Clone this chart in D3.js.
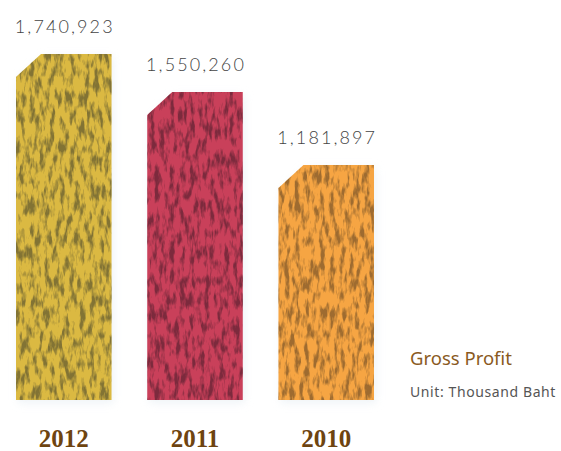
<!DOCTYPE html>
<html>
<head>
<meta charset="utf-8">
<script src="https://cdn.jsdelivr.net/npm/d3@7"></script>
<style>
  body { margin: 0; background: #fff; }
  svg { display: block; }
</style>
</head>
<body>
<script>
// chart data
var years = ["2012", "2011", "2010"];
var profits = [1740923, 1550260, 1181897];
var barColors = ["#dbb942", "#c9405a", "#f6a543"];
var spotColors = ["#5f5830", "#5e2232", "#7a5428"];

var width = 561, height = 451,
	baseY = 400, topY = 54,
	bevelX = 25, bevelY = 23;

var svg = d3.select("body").append("svg")
	.attr("width", width)
	.attr("height", height);

var defs = svg.append("defs");

// mottled texture, one filter per bar colour
spotColors.forEach(function(c, i) {
	var rgb = d3.rgb(c);
	var f = defs.append("filter")
		.attr("id", "tex" + i)
		.attr("color-interpolation-filters", "sRGB")
		.attr("x", 0).attr("y", 0).attr("width", 1).attr("height", 1);
	f.append("feTurbulence")
		.attr("type", "fractalNoise")
		.attr("baseFrequency", "0.2 0.065")
		.attr("numOctaves", 3)
		.attr("seed", 7 + i)
		.attr("result", "noise");
	f.append("feColorMatrix")
		.attr("in", "noise")
		.attr("type", "matrix")
		.attr("values", [
			0, 0, 0, 0, rgb.r / 255,
			0, 0, 0, 0, rgb.g / 255,
			0, 0, 0, 0, rgb.b / 255,
			-4, 0, 0, 0, 2.2].join(" "))
		.attr("result", "spots");
	f.append("feComponentTransfer")
		.attr("in", "spots")
		.attr("result", "soft")
		.append("feFuncA").attr("type", "linear").attr("slope", 0.72);
	f.append("feComposite")
		.attr("in", "soft")
		.attr("in2", "SourceGraphic")
		.attr("operator", "in")
		.attr("result", "clipped");
	var m = f.append("feMerge");
	m.append("feMergeNode").attr("in", "SourceGraphic");
	m.append("feMergeNode").attr("in", "clipped");
});

var glow = defs.append("filter").attr("id", "glow")
	.attr("x", -0.2).attr("y", -0.2).attr("width", 1.4).attr("height", 1.4);
glow.append("feGaussianBlur").attr("stdDeviation", 4);

var x = d3.scaleBand()
	.domain(years)
	.range([16, 374])
	.paddingInner(0.272);

var y = d3.scaleLinear()
	.domain([0, d3.max(profits)])
	.range([baseY, topY]);

var data = years.map(function(yr, i) {
	return {year: yr, value: profits[i], color: barColors[i], idx: i};
});

function barPath(d) {
	var x0 = x(d.year), x1 = x0 + x.bandwidth(),
		y0 = y(d.value), y1 = y(0);
	return "M" + x0 + "," + y1 +
		"L" + x0 + "," + (y0 + bevelY) +
		"L" + (x0 + bevelX) + "," + y0 +
		"L" + x1 + "," + y0 +
		"L" + x1 + "," + y1 + "Z";
}

// faint halo behind bars
svg.append("g").selectAll("path")
	.data(data).enter()
	.append("path")
	.attr("d", barPath)
	.attr("fill", "#e4ecf2")
	.attr("opacity", 0.6)
	.attr("transform", "translate(2,3)")
	.attr("filter", "url(#glow)");

svg.append("g").selectAll("path")
	.data(data).enter()
	.append("path")
	.attr("d", barPath)
	.attr("fill", function(d) { return d.color; })
	.attr("filter", function(d) { return "url(#tex" + d.idx + ")"; });

// values above bars
svg.append("g").selectAll("text")
	.data(data).enter()
	.append("text")
	.attr("x", function(d) { return x(d.year) + x.bandwidth() / 2 + 1; })
	.attr("y", function(d) { return y(d.value) - 21; })
	.attr("text-anchor", "middle")
	.style("font-family", "Lato, 'Open Sans', sans-serif")
	.style("font-weight", 300)
	.style("font-size", "18px")
	.style("letter-spacing", "2.1px")
	.style("fill", "#444")
	.text(function(d) { return d3.format(",")(d.value); });

// year labels
svg.append("g").selectAll("text")
	.data(data).enter()
	.append("text")
	.attr("x", function(d) { return x(d.year) + x.bandwidth() / 2; })
	.attr("y", 447)
	.attr("text-anchor", "middle")
	.style("font-family", "'Liberation Serif', serif")
	.style("font-weight", "bold")
	.style("font-size", "25px")
	.style("fill", "#6e4410")
	.text(function(d) { return d.year; });

// title + unit
svg.append("text")
	.attr("x", 410).attr("y", 365)
	.style("font-family", "'Noto Sans', sans-serif")
	.style("font-size", "18.5px")
	.style("fill", "#8a5a1e")
	.text("Gross Profit");
svg.append("text")
	.attr("x", 410).attr("y", 397)
	.style("font-family", "'Noto Sans', sans-serif")
	.style("font-size", "14px")
	.style("letter-spacing", "0.6px")
	.style("fill", "#555")
	.text("Unit: Thousand Baht");
</script>
</body>
</html>
